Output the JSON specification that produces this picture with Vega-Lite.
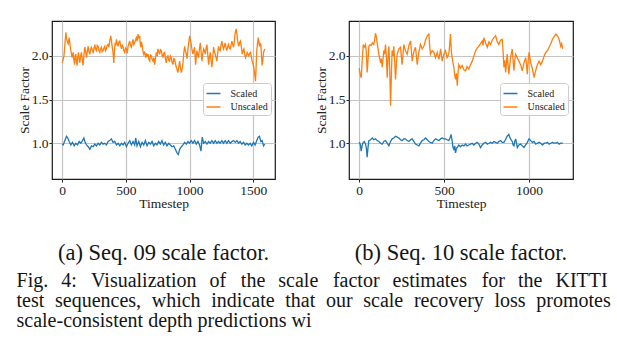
{
  "$schema": "https://vega.github.io/schema/vega-lite/v6.json",
  "padding": {"left": 16, "top": 20, "right": 0, "bottom": 0},
  "background": "white",
  "config": {
    "font": "Liberation Serif",
    "view": {"stroke": "#1a1a1a", "strokeWidth": 1.2},
    "axis": {
      "labelFont": "Liberation Serif", "titleFont": "Liberation Serif",
      "labelFontSize": 13.5, "titleFontSize": 13.5, "titleFontWeight": "normal",
      "labelColor": "#222", "titleColor": "#222", "domain": false,
      "tickColor": "#222", "tickSize": 3, "gridColor": "#c4c4c4", "gridWidth": 1.2,
      "labelPadding": 1
    },
    "axisX": {"titlePadding": 0, "format": "d"},
    "axisY": {"titlePadding": 0},
    "legend": {
      "orient": "none", "legendX": 151, "legendY": 62,
      "symbolType": "stroke", "symbolSize": 196, "symbolStrokeWidth": 1.5,
      "labelFont": "Liberation Serif", "labelFontSize": 10, "labelColor": "#222",
      "labelOffset": 9, "padding": 2.5, "rowPadding": 0.5,
      "strokeColor": "#cccccc", "fillColor": "rgba(255,255,255,0.85)", "cornerRadius": 3
    },
    "title": {"font": "Liberation Serif", "fontWeight": "normal", "color": "#151515"}
  },
  "datasets": {
    "u09": [
      {"t":0,"v":1.92},{"t":8,"v":1.96},{"t":14,"v":2.00},{"t":21,"v":2.13},{"t":29,"v":2.27},{"t":34,"v":2.20},{"t":39,"v":2.17},{"t":47,"v":2.14},{"t":55,"v":2.21},{"t":62,"v":2.12},{"t":68,"v":2.06},{"t":78,"v":1.98},{"t":86,"v":2.04},{"t":92,"v":1.95},{"t":97,"v":1.90},{"t":102,"v":2.00},{"t":107,"v":2.02},{"t":112,"v":1.93},{"t":117,"v":1.89},{"t":122,"v":1.98},{"t":128,"v":2.04},{"t":133,"v":1.97},{"t":138,"v":1.92},{"t":145,"v":2.00},{"t":151,"v":2.04},{"t":158,"v":1.95},{"t":164,"v":1.89},{"t":171,"v":2.02},{"t":178,"v":2.10},{"t":185,"v":2.04},{"t":191,"v":1.98},{"t":198,"v":2.06},{"t":204,"v":2.11},{"t":210,"v":2.05},{"t":217,"v":2.02},{"t":224,"v":2.08},{"t":230,"v":2.10},{"t":237,"v":2.06},{"t":243,"v":2.04},{"t":250,"v":2.09},{"t":256,"v":2.13},{"t":262,"v":2.08},{"t":269,"v":2.06},{"t":275,"v":2.12},{"t":282,"v":2.11},{"t":288,"v":2.06},{"t":295,"v":2.04},{"t":301,"v":2.08},{"t":308,"v":2.10},{"t":314,"v":2.05},{"t":321,"v":2.06},{"t":327,"v":2.09},{"t":334,"v":2.11},{"t":340,"v":2.06},{"t":347,"v":2.08},{"t":353,"v":2.12},{"t":360,"v":2.13},{"t":366,"v":2.10},{"t":373,"v":2.17},{"t":381,"v":2.23},{"t":386,"v":2.18},{"t":392,"v":2.11},{"t":399,"v":2.04},{"t":405,"v":1.92},{"t":410,"v":2.05},{"t":415,"v":2.15},{"t":420,"v":2.12},{"t":426,"v":2.19},{"t":432,"v":2.14},{"t":439,"v":2.11},{"t":445,"v":2.16},{"t":452,"v":2.17},{"t":458,"v":2.12},{"t":465,"v":2.08},{"t":471,"v":2.13},{"t":478,"v":2.10},{"t":484,"v":2.06},{"t":491,"v":2.04},{"t":497,"v":2.09},{"t":504,"v":2.08},{"t":510,"v":2.03},{"t":517,"v":2.11},{"t":523,"v":2.14},{"t":530,"v":2.17},{"t":536,"v":2.12},{"t":543,"v":2.10},{"t":549,"v":2.15},{"t":556,"v":2.19},{"t":562,"v":2.13},{"t":569,"v":2.15},{"t":575,"v":2.18},{"t":582,"v":2.21},{"t":588,"v":2.17},{"t":595,"v":2.25},{"t":601,"v":2.20},{"t":608,"v":2.23},{"t":612,"v":2.15},{"t":616,"v":2.10},{"t":621,"v":2.16},{"t":627,"v":2.13},{"t":633,"v":2.06},{"t":640,"v":2.02},{"t":647,"v":2.05},{"t":655,"v":1.98},{"t":662,"v":2.03},{"t":668,"v":1.99},{"t":674,"v":2.02},{"t":680,"v":1.96},{"t":687,"v":1.94},{"t":693,"v":2.01},{"t":700,"v":2.00},{"t":706,"v":1.96},{"t":713,"v":1.94},{"t":719,"v":1.98},{"t":726,"v":1.90},{"t":732,"v":1.97},{"t":739,"v":2.04},{"t":745,"v":2.00},{"t":752,"v":2.08},{"t":758,"v":2.05},{"t":765,"v":2.02},{"t":771,"v":2.07},{"t":778,"v":2.06},{"t":784,"v":2.01},{"t":791,"v":1.98},{"t":797,"v":2.03},{"t":804,"v":2.04},{"t":810,"v":1.97},{"t":817,"v":1.92},{"t":823,"v":1.99},{"t":830,"v":2.00},{"t":836,"v":1.95},{"t":843,"v":1.94},{"t":849,"v":2.00},{"t":856,"v":1.98},{"t":862,"v":1.93},{"t":869,"v":1.90},{"t":876,"v":1.97},{"t":883,"v":1.96},{"t":889,"v":1.91},{"t":896,"v":1.87},{"t":902,"v":1.84},{"t":909,"v":1.81},{"t":915,"v":1.88},{"t":922,"v":1.94},{"t":928,"v":1.86},{"t":935,"v":1.81},{"t":941,"v":1.85},{"t":948,"v":1.92},{"t":954,"v":2.03},{"t":961,"v":2.11},{"t":967,"v":2.06},{"t":974,"v":2.02},{"t":980,"v":1.97},{"t":987,"v":2.08},{"t":993,"v":2.15},{"t":1000,"v":2.23},{"t":1006,"v":2.18},{"t":1013,"v":2.13},{"t":1019,"v":2.07},{"t":1026,"v":2.02},{"t":1032,"v":2.06},{"t":1039,"v":2.10},{"t":1043,"v":2.00},{"t":1047,"v":1.90},{"t":1052,"v":1.98},{"t":1057,"v":2.06},{"t":1063,"v":2.02},{"t":1070,"v":1.98},{"t":1077,"v":2.08},{"t":1084,"v":2.15},{"t":1090,"v":2.05},{"t":1097,"v":1.94},{"t":1103,"v":2.02},{"t":1110,"v":2.08},{"t":1116,"v":2.06},{"t":1123,"v":2.02},{"t":1129,"v":2.09},{"t":1136,"v":2.13},{"t":1142,"v":2.02},{"t":1149,"v":1.90},{"t":1155,"v":1.98},{"t":1162,"v":2.04},{"t":1168,"v":1.95},{"t":1175,"v":1.87},{"t":1181,"v":1.98},{"t":1188,"v":2.10},{"t":1194,"v":2.05},{"t":1201,"v":2.02},{"t":1207,"v":1.98},{"t":1214,"v":1.94},{"t":1220,"v":2.03},{"t":1227,"v":2.11},{"t":1233,"v":2.07},{"t":1240,"v":2.06},{"t":1246,"v":2.12},{"t":1253,"v":2.17},{"t":1259,"v":2.12},{"t":1266,"v":2.08},{"t":1272,"v":2.11},{"t":1279,"v":2.15},{"t":1285,"v":2.10},{"t":1292,"v":2.06},{"t":1298,"v":2.10},{"t":1305,"v":2.13},{"t":1312,"v":2.09},{"t":1319,"v":2.08},{"t":1325,"v":2.12},{"t":1332,"v":2.17},{"t":1338,"v":2.13},{"t":1345,"v":2.10},{"t":1352,"v":2.18},{"t":1358,"v":2.27},{"t":1366,"v":2.31},{"t":1371,"v":2.25},{"t":1376,"v":2.19},{"t":1381,"v":2.14},{"t":1386,"v":2.11},{"t":1392,"v":2.15},{"t":1399,"v":2.17},{"t":1406,"v":2.10},{"t":1413,"v":2.02},{"t":1420,"v":2.06},{"t":1426,"v":2.08},{"t":1432,"v":2.02},{"t":1439,"v":1.98},{"t":1446,"v":2.01},{"t":1452,"v":2.04},{"t":1459,"v":2.02},{"t":1465,"v":2.00},{"t":1471,"v":2.03},{"t":1478,"v":2.04},{"t":1484,"v":1.99},{"t":1491,"v":1.94},{"t":1497,"v":1.91},{"t":1504,"v":1.87},{"t":1510,"v":1.80},{"t":1517,"v":1.71},{"t":1522,"v":1.88},{"t":1527,"v":2.06},{"t":1533,"v":2.15},{"t":1538,"v":2.21},{"t":1543,"v":2.16},{"t":1548,"v":2.11},{"t":1554,"v":2.14},{"t":1559,"v":2.13},{"t":1564,"v":2.00},{"t":1569,"v":1.89},{"t":1575,"v":1.96},{"t":1580,"v":2.04},{"t":1585,"v":2.06},{"t":1590,"v":2.08}
    ],
    "s09": [
      {"t":0,"v":0.99},{"t":8,"v":0.98},{"t":21,"v":1.03},{"t":34,"v":1.08},{"t":44,"v":1.06},{"t":55,"v":1.02},{"t":68,"v":0.98},{"t":81,"v":1.01},{"t":94,"v":0.97},{"t":107,"v":1.00},{"t":120,"v":0.98},{"t":133,"v":1.02},{"t":146,"v":1.00},{"t":159,"v":1.03},{"t":170,"v":1.06},{"t":180,"v":1.01},{"t":191,"v":0.98},{"t":204,"v":0.96},{"t":217,"v":0.93},{"t":230,"v":0.97},{"t":243,"v":0.96},{"t":256,"v":0.99},{"t":269,"v":0.97},{"t":282,"v":1.00},{"t":295,"v":0.98},{"t":308,"v":1.01},{"t":321,"v":0.99},{"t":334,"v":1.00},{"t":347,"v":0.98},{"t":360,"v":1.02},{"t":373,"v":1.03},{"t":386,"v":1.05},{"t":399,"v":1.01},{"t":412,"v":1.02},{"t":426,"v":0.98},{"t":439,"v":1.00},{"t":452,"v":0.97},{"t":465,"v":1.00},{"t":478,"v":0.98},{"t":491,"v":1.01},{"t":504,"v":0.96},{"t":517,"v":1.00},{"t":530,"v":1.03},{"t":543,"v":0.98},{"t":556,"v":1.02},{"t":569,"v":0.98},{"t":577,"v":1.06},{"t":587,"v":0.97},{"t":601,"v":1.02},{"t":614,"v":0.96},{"t":627,"v":1.01},{"t":640,"v":0.98},{"t":653,"v":1.03},{"t":666,"v":0.97},{"t":679,"v":1.01},{"t":692,"v":0.99},{"t":705,"v":1.02},{"t":718,"v":0.97},{"t":731,"v":1.00},{"t":744,"v":0.98},{"t":757,"v":1.02},{"t":770,"v":0.99},{"t":783,"v":1.03},{"t":796,"v":0.98},{"t":809,"v":1.01},{"t":822,"v":0.97},{"t":836,"v":1.00},{"t":849,"v":0.98},{"t":862,"v":0.96},{"t":875,"v":0.97},{"t":888,"v":0.93},{"t":901,"v":0.89},{"t":911,"v":0.87},{"t":922,"v":0.93},{"t":935,"v":0.96},{"t":948,"v":0.98},{"t":961,"v":1.01},{"t":974,"v":0.99},{"t":987,"v":1.02},{"t":1000,"v":1.00},{"t":1013,"v":1.03},{"t":1026,"v":1.00},{"t":1039,"v":1.03},{"t":1052,"v":0.99},{"t":1065,"v":1.02},{"t":1078,"v":0.98},{"t":1089,"v":0.91},{"t":1099,"v":1.07},{"t":1110,"v":1.00},{"t":1123,"v":1.02},{"t":1136,"v":0.99},{"t":1149,"v":1.02},{"t":1162,"v":1.00},{"t":1175,"v":1.03},{"t":1188,"v":1.00},{"t":1201,"v":1.03},{"t":1214,"v":1.00},{"t":1227,"v":1.02},{"t":1240,"v":1.00},{"t":1253,"v":1.03},{"t":1266,"v":1.00},{"t":1279,"v":1.03},{"t":1292,"v":1.00},{"t":1305,"v":1.03},{"t":1319,"v":1.00},{"t":1332,"v":1.02},{"t":1345,"v":1.03},{"t":1358,"v":1.01},{"t":1371,"v":1.03},{"t":1384,"v":1.00},{"t":1397,"v":1.02},{"t":1410,"v":0.99},{"t":1423,"v":1.01},{"t":1436,"v":0.98},{"t":1449,"v":1.00},{"t":1462,"v":0.98},{"t":1475,"v":1.00},{"t":1488,"v":0.97},{"t":1501,"v":1.01},{"t":1514,"v":0.98},{"t":1527,"v":1.03},{"t":1538,"v":1.07},{"t":1548,"v":1.08},{"t":1559,"v":1.02},{"t":1569,"v":1.03},{"t":1580,"v":0.97},{"t":1590,"v":0.99}
    ],
    "u10": [
      {"t":0,"v":1.86},{"t":5,"v":1.80},{"t":12,"v":1.75},{"t":18,"v":1.95},{"t":24,"v":2.13},{"t":30,"v":2.10},{"t":37,"v":2.13},{"t":42,"v":2.05},{"t":47,"v":1.81},{"t":52,"v":1.95},{"t":57,"v":2.11},{"t":64,"v":2.13},{"t":71,"v":2.12},{"t":78,"v":2.15},{"t":86,"v":2.13},{"t":91,"v":2.18},{"t":96,"v":2.26},{"t":101,"v":2.22},{"t":106,"v":2.15},{"t":116,"v":2.02},{"t":126,"v":1.92},{"t":131,"v":1.97},{"t":136,"v":1.87},{"t":140,"v":1.95},{"t":145,"v":2.06},{"t":150,"v":2.02},{"t":155,"v":2.13},{"t":160,"v":2.00},{"t":165,"v":1.75},{"t":170,"v":1.98},{"t":175,"v":2.11},{"t":180,"v":1.85},{"t":185,"v":1.43},{"t":190,"v":1.80},{"t":194,"v":2.06},{"t":199,"v":2.00},{"t":204,"v":2.11},{"t":209,"v":1.95},{"t":214,"v":1.73},{"t":219,"v":1.90},{"t":224,"v":2.02},{"t":234,"v":2.08},{"t":244,"v":2.10},{"t":248,"v":2.00},{"t":253,"v":1.90},{"t":258,"v":2.02},{"t":263,"v":2.13},{"t":273,"v":2.06},{"t":283,"v":2.02},{"t":293,"v":2.12},{"t":303,"v":2.17},{"t":308,"v":2.05},{"t":312,"v":1.94},{"t":322,"v":2.05},{"t":332,"v":2.10},{"t":337,"v":2.00},{"t":342,"v":1.90},{"t":352,"v":2.05},{"t":361,"v":2.13},{"t":371,"v":2.08},{"t":381,"v":2.11},{"t":391,"v":2.18},{"t":401,"v":2.23},{"t":411,"v":2.25},{"t":416,"v":2.10},{"t":420,"v":2.02},{"t":430,"v":2.06},{"t":440,"v":2.04},{"t":450,"v":1.98},{"t":460,"v":2.04},{"t":465,"v":2.00},{"t":470,"v":1.96},{"t":480,"v":2.08},{"t":485,"v":2.00},{"t":489,"v":1.94},{"t":499,"v":2.02},{"t":509,"v":2.06},{"t":518,"v":1.98},{"t":528,"v":2.02},{"t":533,"v":2.12},{"t":538,"v":2.25},{"t":543,"v":2.05},{"t":548,"v":1.98},{"t":553,"v":1.92},{"t":558,"v":1.87},{"t":563,"v":1.78},{"t":568,"v":1.73},{"t":573,"v":1.80},{"t":578,"v":1.66},{"t":583,"v":1.82},{"t":587,"v":1.90},{"t":597,"v":1.86},{"t":607,"v":1.89},{"t":617,"v":1.84},{"t":627,"v":1.83},{"t":636,"v":1.88},{"t":646,"v":1.85},{"t":656,"v":1.90},{"t":666,"v":1.94},{"t":676,"v":2.00},{"t":686,"v":2.06},{"t":695,"v":2.09},{"t":705,"v":2.11},{"t":715,"v":2.14},{"t":725,"v":2.17},{"t":730,"v":2.12},{"t":735,"v":2.21},{"t":745,"v":2.15},{"t":755,"v":2.10},{"t":765,"v":2.16},{"t":774,"v":2.13},{"t":784,"v":2.18},{"t":794,"v":2.21},{"t":804,"v":2.23},{"t":814,"v":2.16},{"t":823,"v":2.13},{"t":833,"v":2.18},{"t":843,"v":2.19},{"t":848,"v":2.05},{"t":853,"v":1.87},{"t":858,"v":1.95},{"t":863,"v":1.81},{"t":868,"v":1.92},{"t":872,"v":2.02},{"t":877,"v":1.90},{"t":882,"v":1.79},{"t":892,"v":1.98},{"t":902,"v":2.08},{"t":907,"v":1.95},{"t":912,"v":1.83},{"t":917,"v":1.95},{"t":922,"v":2.02},{"t":932,"v":1.98},{"t":941,"v":1.94},{"t":951,"v":1.90},{"t":961,"v":1.83},{"t":971,"v":1.92},{"t":981,"v":1.98},{"t":986,"v":1.90},{"t":991,"v":1.79},{"t":996,"v":1.95},{"t":1001,"v":2.04},{"t":1006,"v":1.98},{"t":1011,"v":1.92},{"t":1021,"v":1.85},{"t":1031,"v":1.75},{"t":1036,"v":1.80},{"t":1040,"v":1.83},{"t":1050,"v":1.90},{"t":1060,"v":1.94},{"t":1070,"v":1.90},{"t":1080,"v":1.94},{"t":1090,"v":2.00},{"t":1099,"v":2.04},{"t":1109,"v":2.06},{"t":1119,"v":2.10},{"t":1129,"v":2.14},{"t":1139,"v":2.19},{"t":1149,"v":2.22},{"t":1159,"v":2.25},{"t":1168,"v":2.23},{"t":1178,"v":2.19},{"t":1188,"v":2.11},{"t":1193,"v":2.14},{"t":1200,"v":2.08}
    ],
    "s10": [
      {"t":0,"v":1.01},{"t":6,"v":0.99},{"t":12,"v":0.91},{"t":18,"v":0.98},{"t":24,"v":1.01},{"t":30,"v":1.02},{"t":37,"v":0.99},{"t":42,"v":0.95},{"t":47,"v":0.84},{"t":52,"v":0.95},{"t":57,"v":1.03},{"t":67,"v":1.04},{"t":77,"v":1.06},{"t":86,"v":1.04},{"t":96,"v":1.05},{"t":106,"v":1.03},{"t":116,"v":1.02},{"t":126,"v":1.00},{"t":136,"v":0.99},{"t":145,"v":1.02},{"t":155,"v":1.03},{"t":165,"v":1.00},{"t":175,"v":0.97},{"t":185,"v":1.02},{"t":194,"v":1.05},{"t":204,"v":1.06},{"t":214,"v":1.08},{"t":224,"v":1.07},{"t":234,"v":1.06},{"t":244,"v":1.04},{"t":253,"v":1.03},{"t":263,"v":1.05},{"t":273,"v":1.05},{"t":283,"v":1.03},{"t":293,"v":1.02},{"t":303,"v":1.04},{"t":312,"v":1.05},{"t":322,"v":1.02},{"t":332,"v":0.99},{"t":342,"v":0.98},{"t":352,"v":0.97},{"t":361,"v":1.00},{"t":371,"v":1.03},{"t":381,"v":1.04},{"t":391,"v":1.06},{"t":401,"v":1.04},{"t":411,"v":1.02},{"t":420,"v":1.01},{"t":430,"v":1.00},{"t":440,"v":1.03},{"t":450,"v":1.05},{"t":460,"v":1.04},{"t":470,"v":1.03},{"t":480,"v":1.05},{"t":489,"v":1.06},{"t":499,"v":1.05},{"t":509,"v":1.05},{"t":518,"v":1.04},{"t":528,"v":1.03},{"t":535,"v":1.06},{"t":542,"v":1.10},{"t":548,"v":1.02},{"t":553,"v":0.95},{"t":558,"v":0.93},{"t":563,"v":0.97},{"t":568,"v":0.89},{"t":573,"v":0.94},{"t":578,"v":0.95},{"t":587,"v":0.98},{"t":597,"v":0.96},{"t":607,"v":0.98},{"t":617,"v":0.97},{"t":627,"v":0.99},{"t":636,"v":0.97},{"t":646,"v":0.98},{"t":656,"v":0.99},{"t":666,"v":1.00},{"t":676,"v":0.98},{"t":686,"v":1.00},{"t":695,"v":1.01},{"t":705,"v":0.99},{"t":715,"v":0.95},{"t":725,"v":0.98},{"t":735,"v":1.00},{"t":745,"v":1.01},{"t":755,"v":0.99},{"t":765,"v":1.00},{"t":774,"v":1.01},{"t":784,"v":1.00},{"t":794,"v":1.02},{"t":804,"v":1.01},{"t":814,"v":1.00},{"t":823,"v":1.02},{"t":833,"v":1.03},{"t":843,"v":1.01},{"t":853,"v":1.01},{"t":862,"v":1.04},{"t":872,"v":1.08},{"t":882,"v":1.10},{"t":887,"v":1.07},{"t":892,"v":1.05},{"t":902,"v":1.02},{"t":907,"v":0.98},{"t":912,"v":0.97},{"t":917,"v":1.02},{"t":922,"v":1.05},{"t":927,"v":1.00},{"t":932,"v":0.95},{"t":941,"v":0.98},{"t":951,"v":0.99},{"t":961,"v":0.97},{"t":971,"v":0.95},{"t":981,"v":0.98},{"t":991,"v":1.01},{"t":996,"v":1.03},{"t":1001,"v":1.05},{"t":1011,"v":1.03},{"t":1021,"v":1.01},{"t":1030,"v":1.02},{"t":1040,"v":0.99},{"t":1050,"v":1.00},{"t":1060,"v":1.01},{"t":1070,"v":1.00},{"t":1080,"v":0.98},{"t":1090,"v":1.00},{"t":1099,"v":1.00},{"t":1109,"v":1.01},{"t":1119,"v":0.99},{"t":1129,"v":1.00},{"t":1139,"v":1.01},{"t":1149,"v":1.00},{"t":1159,"v":1.00},{"t":1168,"v":1.01},{"t":1178,"v":0.99},{"t":1188,"v":1.00},{"t":1200,"v":1.00}
    ]
  },
  "title": {
    "text": [
      "Fig.\u2009\u2009 4:\u2009\u2009\u200a Visualization\u2009\u2009 of\u2009\u2009\u200a the\u2009\u2009 scale\u2009\u2009\u200a factor\u2009\u2009 estimates\u2009\u2009\u200a for\u2009\u2009 the\u2009\u2009 KITTI",
      "test\u2009\u200a sequences,\u2009\u200a which\u2009\u200a indicate\u2009\u200a that\u2009\u200a our\u2009\u200a scale\u2009\u200a recovery\u2009\u200a loss\u2009\u200a promotes",
      "scale-consistent depth predictions wi"
    ],
    "orient": "bottom", "anchor": "start", "frame": "bounds",
    "fontSize": 20, "lineHeight": 20, "offset": 6, "dx": 0
  },
  "spacing": 37,
  "resolve": {"scale": {"color": "independent"}, "legend": {"color": "independent"}},
  "hconcat": [
    {
      "width": 223, "height": 158,
      "title": {"text": "(a) Seq. 09 scale factor.", "orient": "bottom", "anchor": "middle", "offset": 32, "fontSize": 22.5},
      "layer": [
        {
          "data": {"name": "s09"},
          "mark": {"type": "line", "strokeWidth": 1.3},
          "encoding": {
            "x": {"field": "t", "type": "quantitative", "scale": {"domain": [-80, 1670], "nice": false, "zero": false}, "axis": {"values": [0, 500, 1000, 1500], "title": "Timestep"}},
            "y": {"field": "v", "type": "quantitative", "scale": {"domain": [0.59, 2.4], "nice": false, "zero": false}, "axis": {"values": [1, 1.5, 2], "format": ".1f", "title": "Scale Factor"}},
            "color": {"datum": "Scaled", "type": "nominal", "scale": {"domain": ["Scaled", "Unscaled"], "range": ["#1f77b4", "#ff7f0e"]}, "legend": {"title": null}}
          }
        },
        {
          "data": {"name": "u09"},
          "mark": {"type": "line", "strokeWidth": 1.3},
          "encoding": {
            "x": {"field": "t", "type": "quantitative"},
            "y": {"field": "v", "type": "quantitative"},
            "color": {"datum": "Unscaled", "type": "nominal"}
          }
        }
      ]
    },
    {
      "width": 224, "height": 158,
      "title": {"text": "(b) Seq. 10 scale factor.", "orient": "bottom", "anchor": "middle", "offset": 32, "fontSize": 22.5},
      "layer": [
        {
          "data": {"name": "s10"},
          "mark": {"type": "line", "strokeWidth": 1.3},
          "encoding": {
            "x": {"field": "t", "type": "quantitative", "scale": {"domain": [-60, 1260], "nice": false, "zero": false}, "axis": {"values": [0, 500, 1000], "title": "Timestep"}},
            "y": {"field": "v", "type": "quantitative", "scale": {"domain": [0.59, 2.4], "nice": false, "zero": false}, "axis": {"values": [1, 1.5, 2], "format": ".1f", "title": "Scale Factor"}},
            "color": {"datum": "Scaled", "type": "nominal", "scale": {"domain": ["Scaled", "Unscaled"], "range": ["#1f77b4", "#ff7f0e"]}, "legend": {"title": null}}
          }
        },
        {
          "data": {"name": "u10"},
          "mark": {"type": "line", "strokeWidth": 1.3},
          "encoding": {
            "x": {"field": "t", "type": "quantitative"},
            "y": {"field": "v", "type": "quantitative"},
            "color": {"datum": "Unscaled", "type": "nominal"}
          }
        }
      ]
    }
  ]
}
